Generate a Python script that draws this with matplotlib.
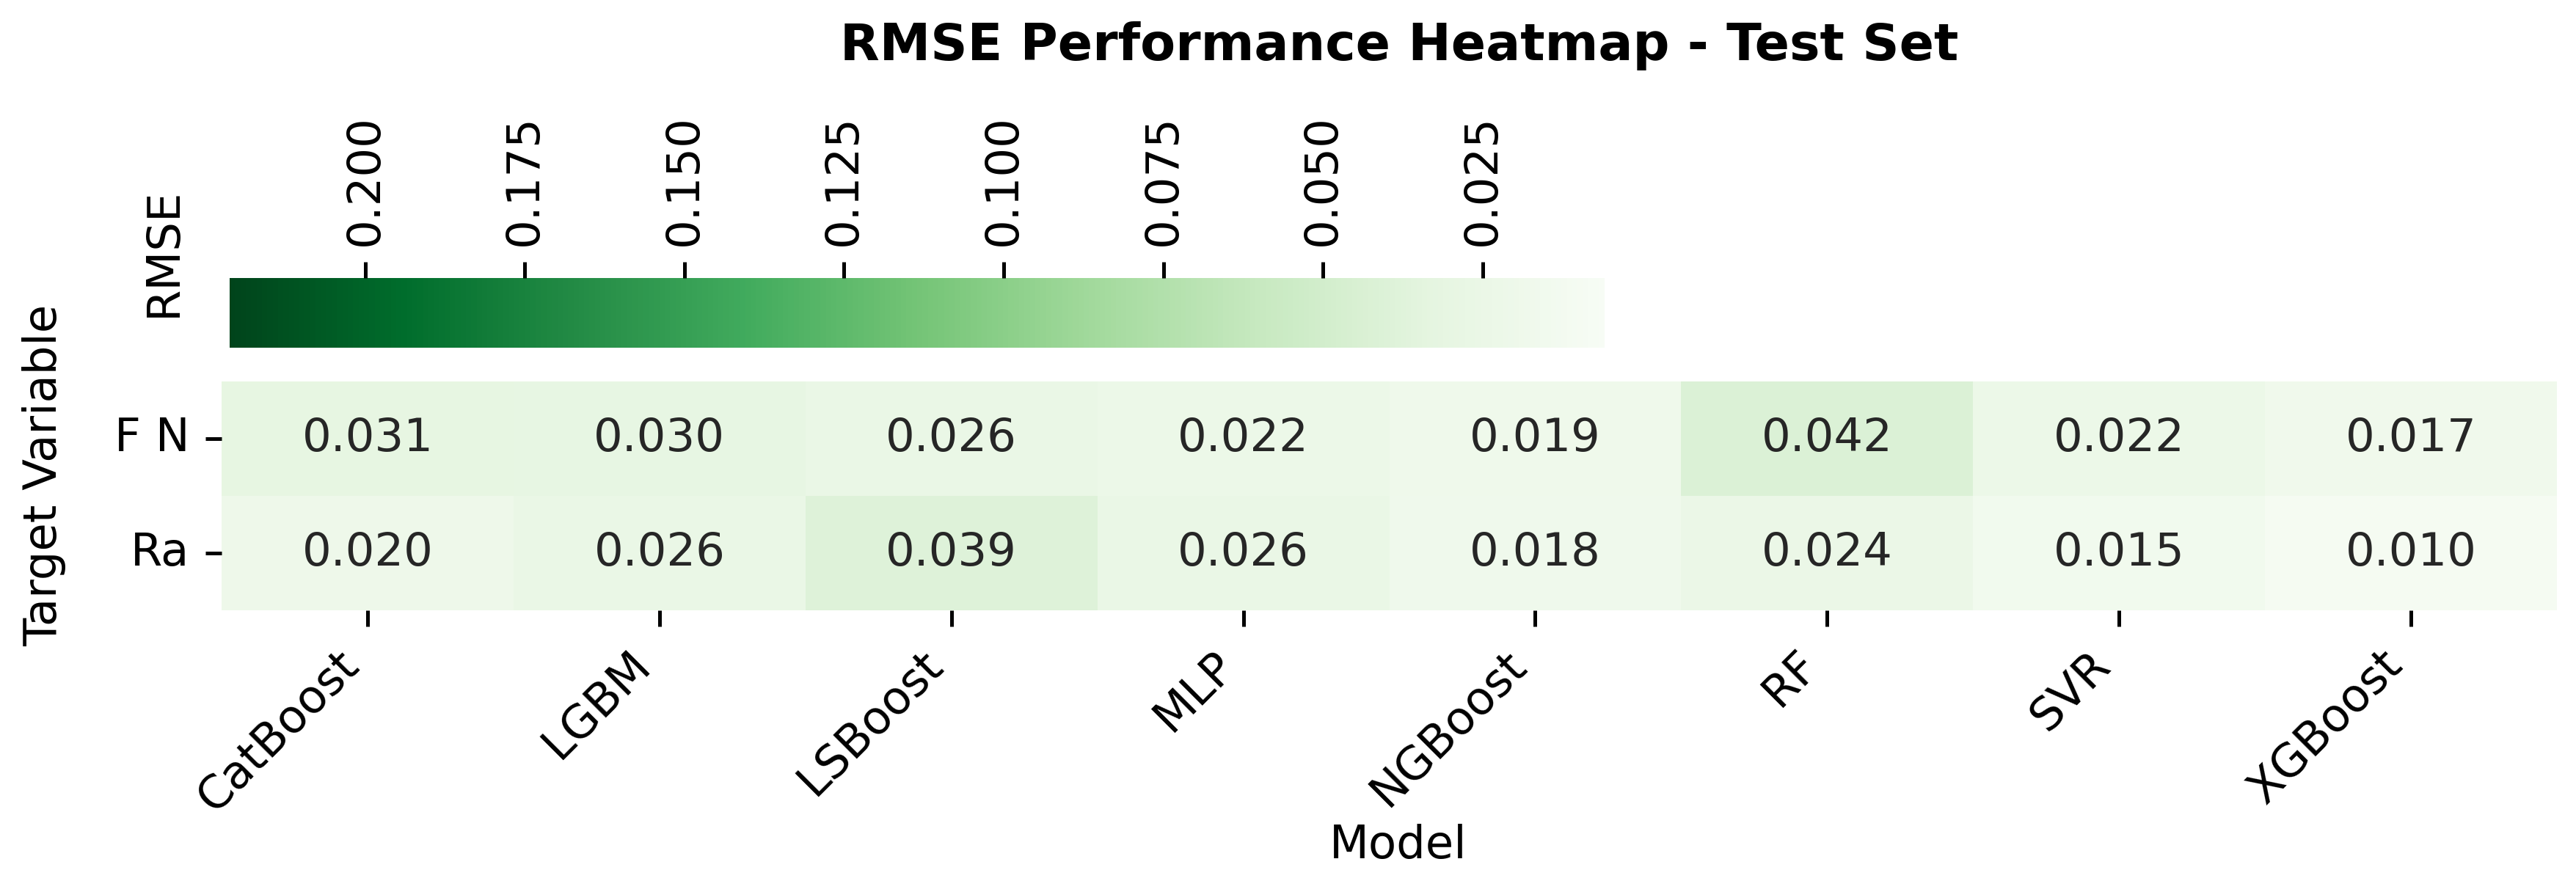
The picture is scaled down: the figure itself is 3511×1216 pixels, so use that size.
import matplotlib
matplotlib.use("Agg")
import matplotlib.pyplot as plt
import seaborn as sns
import numpy as np
import pandas as pd

# data
models = ["CatBoost", "LGBM", "LSBoost", "MLP", "NGBoost", "RF", "SVR", "XGBoost"]
targets = ["F N", "Ra"]
rmse_fn = [0.031, 0.030, 0.026, 0.022, 0.019, 0.042, 0.022, 0.017]
rmse_ra = [0.020, 0.026, 0.039, 0.026, 0.018, 0.024, 0.015, 0.010]
cbar_ticks = [0.025, 0.050, 0.075, 0.100, 0.125, 0.150, 0.175, 0.200]
vmin, vmax = 0.0059, 0.2212

df = pd.DataFrame([rmse_fn, rmse_ra], index=targets, columns=models)

W, H, DPI = 3511, 1216, 450
fig = plt.figure(figsize=(W / DPI, H / DPI), dpi=DPI)
plt.rcParams['font.size'] = 10

ax = fig.add_axes([302 / W, 1 - 832 / H, (3485 - 302) / W, 312 / H])
cax = fig.add_axes([313 / W, 1 - 474 / H, (2187 - 313) / W, 95 / H])

sns.heatmap(df, ax=ax, cmap="Greens", vmin=vmin, vmax=vmax, annot=True, fmt=".3f",
            cbar_ax=cax, cbar_kws={"orientation": "horizontal", "ticks": cbar_ticks})

# heatmap axes
ax.set_xticklabels(models, rotation=45, ha="right", fontsize=10)
ax.set_yticklabels(targets, rotation=0, fontsize=10)
ax.set_xlabel("")
ax.set_ylabel("")

fig.text(1906 / W, 1 - 1170 / H, "Model", ha="center", va="baseline", fontsize=10)
fig.text(60 / W, 1 - 648 / H, "Target Variable", rotation=90, ha="center", va="center", fontsize=10)

# colorbar on top, reversed
cb = ax.collections[0].colorbar
cb.outline.set_visible(False)
cax.invert_xaxis()
cax.xaxis.set_ticks_position("top")
cax.xaxis.set_label_position("top")
cax.set_xticks(cbar_ticks)
cax.set_xticklabels([f"{t:.3f}" for t in cbar_ticks], rotation=90, fontsize=10)
fig.text(223 / W, 1 - 344 / H, "RMSE", rotation=90, ha="center", va="center", fontsize=10)

fig.text(1907 / W, 1 - 82 / H, "RMSE Performance Heatmap - Test Set",
         ha="center", va="baseline", fontsize=11.2, fontweight="bold")

fig.savefig("out.png", dpi=DPI)
